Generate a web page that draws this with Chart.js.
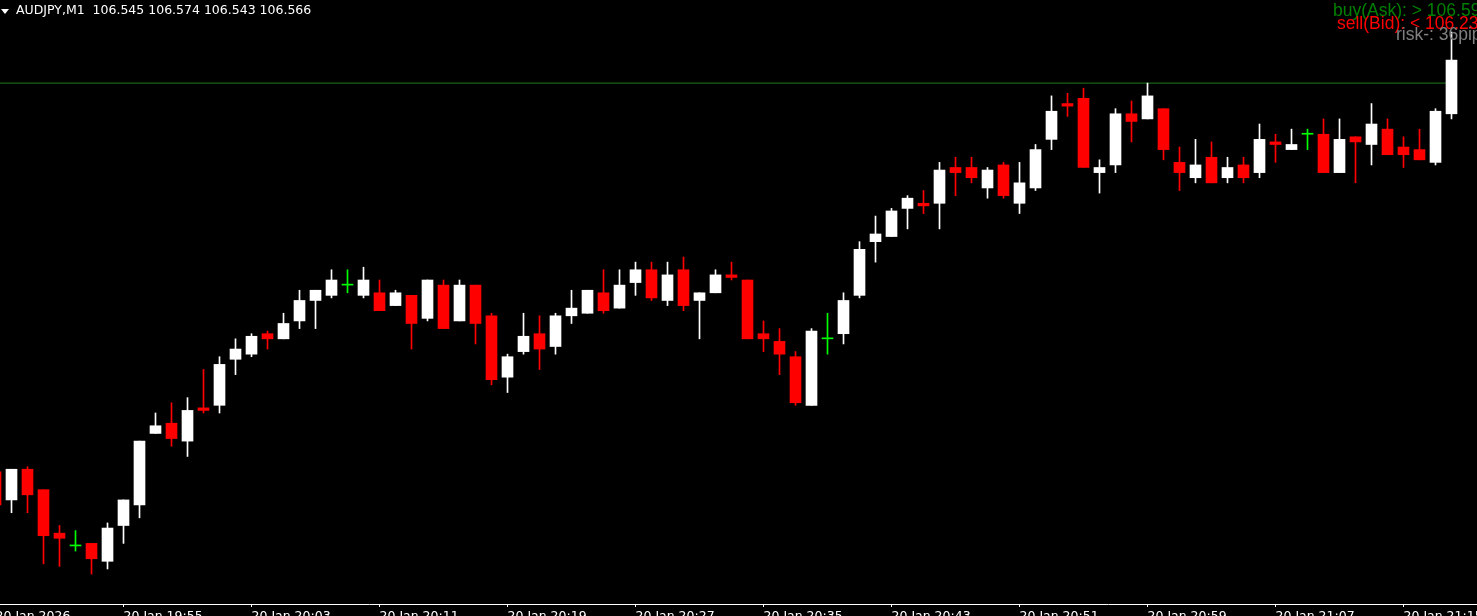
<!DOCTYPE html>
<html lang="en">
<head>
<meta charset="UTF-8">
<title>AUDJPY,M1</title>
<script src="https://cdn.jsdelivr.net/npm/chart.js"></script>
<style>
    html, body {
        margin: 0;
        padding: 0;
        background: #000;
        overflow: hidden;
    }
    #wrap {
        position: relative;
        width: 1477px;
        height: 616px;
        overflow: hidden;
    }
    .txt {
        position: absolute;
        white-space: pre;
    }
    #hdr {
        left: 16px;
        top: 3px;
        font: 12.5px "DejaVu Sans", sans-serif;
        line-height: 14px;
        color: #fff;
    }
    #tri {
        position: absolute;
        left: 1px;
        top: 9px;
        width: 0;
        height: 0;
        border-left: 4px solid transparent;
        border-right: 4px solid transparent;
        border-top: 5px solid #fff;
    }
    .info {
        font: 17.5px "Liberation Sans", Arial, sans-serif;
        line-height: 17px;
    }
</style>
</head>
<body>

<div id="wrap">
    <canvas id="chart"></canvas>
    <div id="tri"></div>
    <div id="hdr" class="txt">AUDJPY,M1  106.545 106.574 106.543 106.566</div>
    <div class="txt info" style="left:1333px; top:2px; color:#008000;">buy(Ask): &gt; 106.59</div>
    <div class="txt info" style="left:1337px; top:15px; color:#ff0000;">sell(Bid): &lt; 106.23</div>
    <div class="txt info" style="left:1396px; top:26px; color:#808080;">risk-: 36pips</div>
</div>

<script>
    // AUDJPY M1 bars, 20 Jan 19:47 .. 21:18
    const open = [
        106.405, 106.394, 106.406, 106.398, 106.381, 106.376, 106.377, 106.370, 106.384, 106.392,
        106.420, 106.424, 106.417, 106.430, 106.431, 106.449, 106.451, 106.459, 106.457, 106.464,
        106.472, 106.474, 106.478, 106.474, 106.475, 106.470, 106.474, 106.465, 106.478, 106.464,
        106.478, 106.466, 106.442, 106.452, 106.459, 106.454, 106.466, 106.467, 106.475, 106.469,
        106.479, 106.484, 106.472, 106.484, 106.472, 106.475, 106.482, 106.480, 106.459, 106.456,
        106.450, 106.431, 106.457, 106.459, 106.474, 106.495, 106.497, 106.508, 106.510, 106.510,
        106.524, 106.524, 106.516, 106.525, 106.510, 106.516, 106.535, 106.549, 106.551, 106.522,
        106.525, 106.545, 106.543, 106.547, 106.526, 106.520, 106.528, 106.520, 106.525, 106.522,
        106.534, 106.531, 106.537, 106.537, 106.522, 106.536, 106.533, 106.539, 106.532, 106.531,
        106.526, 106.545
    ];
    const high = [
        106.407, 106.406, 106.407, 106.398, 106.384, 106.382, 106.377, 106.385, 106.394, 106.417,
        106.428, 106.432, 106.434, 106.445, 106.450, 106.457, 106.459, 106.460, 106.467, 106.476,
        106.476, 106.484, 106.484, 106.485, 106.480, 106.476, 106.474, 106.480, 106.480, 106.480,
        106.478, 106.467, 106.451, 106.467, 106.466, 106.467, 106.476, 106.476, 106.484, 106.484,
        106.487, 106.487, 106.487, 106.489, 106.475, 106.484, 106.487, 106.480, 106.464, 106.461,
        106.452, 106.461, 106.467, 106.475, 106.495, 106.505, 106.508, 106.513, 106.515, 106.526,
        106.528, 106.528, 106.524, 106.526, 106.526, 106.533, 106.552, 106.553, 106.555, 106.527,
        106.547, 106.550, 106.557, 106.547, 106.532, 106.535, 106.534, 106.528, 106.528, 106.541,
        106.537, 106.539, 106.539, 106.543, 106.543, 106.536, 106.549, 106.543, 106.536, 106.539,
        106.547, 106.577
    ];
    const low = [
        106.390, 106.389, 106.389, 106.369, 106.368, 106.374, 106.365, 106.367, 106.377, 106.387,
        106.420, 106.415, 106.411, 106.428, 106.428, 106.443, 106.450, 106.453, 106.457, 106.461,
        106.461, 106.473, 106.475, 106.473, 106.468, 106.470, 106.453, 106.464, 106.461, 106.464,
        106.455, 106.439, 106.436, 106.451, 106.445, 106.451, 106.463, 106.467, 106.467, 106.469,
        106.474, 106.472, 106.470, 106.468, 106.457, 106.475, 106.480, 106.457, 106.452, 106.443,
        106.431, 106.431, 106.451, 106.455, 106.473, 106.487, 106.497, 106.500, 106.506, 106.500,
        106.513, 106.518, 106.512, 106.512, 106.506, 106.515, 106.531, 106.544, 106.524, 106.514,
        106.522, 106.534, 106.543, 106.527, 106.515, 106.518, 106.518, 106.518, 106.518, 106.520,
        106.526, 106.531, 106.531, 106.522, 106.522, 106.518, 106.525, 106.529, 106.524, 106.527,
        106.525, 106.543
    ];
    const close = [
        106.392, 106.406, 106.396, 106.380, 106.379, 106.376, 106.371, 106.383, 106.394, 106.417,
        106.423, 106.418, 106.429, 106.429, 106.447, 106.453, 106.458, 106.457, 106.463, 106.472,
        106.476, 106.480, 106.478, 106.480, 106.468, 106.475, 106.463, 106.480, 106.461, 106.478,
        106.463, 106.441, 106.450, 106.458, 106.453, 106.466, 106.469, 106.476, 106.468, 106.478,
        106.484, 106.473, 106.482, 106.470, 106.475, 106.482, 106.481, 106.457, 106.457, 106.451,
        106.432, 106.460, 106.457, 106.472, 106.492, 106.498, 106.507, 106.512, 106.509, 106.523,
        106.522, 106.520, 106.523, 106.513, 106.518, 106.531, 106.546, 106.548, 106.524, 106.524,
        106.545, 106.542, 106.552, 106.531, 106.522, 106.525, 106.518, 106.524, 106.520, 106.535,
        106.533, 106.533, 106.537, 106.522, 106.535, 106.534, 106.541, 106.529, 106.529, 106.527,
        106.546, 106.566
    ];
    // one date label every 8 bars, starting at the first bar
    const tickLabels = [
        '20 Jan 2026', '20 Jan 19:55', '20 Jan 20:03', '20 Jan 20:11', '20 Jan 20:19', '20 Jan 20:27',
        '20 Jan 20:35', '20 Jan 20:43', '20 Jan 20:51', '20 Jan 20:59', '20 Jan 21:07', '20 Jan 21:15'
    ];
    const askLine = 106.557;
    const priceTop = 106.5895;
    const priceBottom = 106.3533;

    const idx = open.map((_, i) => i);
    const colorOf = i => close[i] > open[i] ? '#ffffff' : (close[i] < open[i] ? '#ff0000' : '#00ff00');
    const colors = idx.map(colorOf);

    const ctx = document.getElementById('chart').getContext('2d');
    new Chart(ctx, {
        data: {
            datasets: [
                {
                    type: 'bar',
                    data: idx.map(i => ({ x: i, y: [open[i], close[i]] })),
                    backgroundColor: colors,
                    barThickness: 11,
                    minBarLength: 1,
                    grouped: false,
                    borderWidth: 0,
                    order: 1
                },
                {
                    type: 'bar',
                    data: idx.map(i => ({ x: i, y: [low[i], high[i]] })),
                    backgroundColor: colors,
                    barThickness: 1,
                    minBarLength: 1,
                    grouped: false,
                    borderWidth: 0,
                    order: 2
                },
                {
                    type: 'line',
                    data: [{ x: 0, y: askLine }, { x: idx.length - 1, y: askLine }],
                    borderColor: '#1e7d1e',
                    borderWidth: 1,
                    pointRadius: 0,
                    order: 3
                }
            ]
        },
        options: {
            responsive: true,
            maintainAspectRatio: false,
            animation: false,
            events: [],
            layout: { padding: 0, autoPadding: false },
            plugins: {
                legend: { display: false },
                tooltip: { enabled: false }
            },
            scales: {
                x: {
                    type: 'linear',
                    bounds: 'data',
                    offset: false,
                    min: 0.28125,
                    max: 92.59375,
                    afterBuildTicks: scale => {
                        scale.ticks = tickLabels.map((_, j) => ({ value: j * 8 }));
                    },
                    afterFit: scale => {
                        scale.height = 12;
                        scale.paddingLeft = 0;
                        scale.paddingRight = 0;
                    },
                    border: { display: true, color: '#ffffff', width: 1 },
                    grid: {
                        offset: false,
                        drawOnChartArea: false,
                        drawTicks: true,
                        tickLength: 3,
                        color: '#ffffff'
                    },
                    ticks: {
                        autoSkip: false,
                        maxRotation: 0,
                        align: 'start',
                        padding: 2,
                        color: '#ffffff',
                        font: { family: 'DejaVu Sans', size: 12.5 },
                        callback: (v, j) => tickLabels[j]
                    }
                },
                y: {
                    type: 'linear',
                    display: false,
                    min: priceBottom,
                    max: priceTop
                }
            }
        }
    });
</script>

</body>
</html>
